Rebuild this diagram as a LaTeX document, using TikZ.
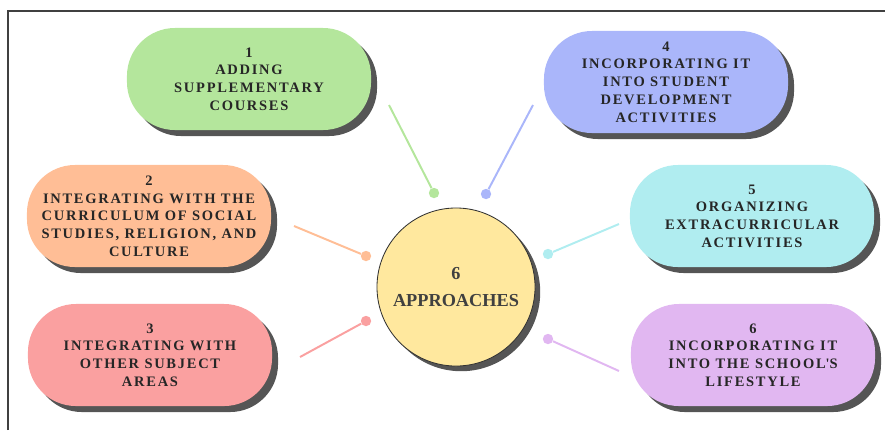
\documentclass[tikz,border=0pt]{standalone}
\usepackage{fontspec}
\setmainfont{Liberation Serif}
\usepackage{xcolor}
\usepackage{tikz}
\usetikzlibrary{shadows}

\definecolor{addgreen}{RGB}{180,230,156}
\definecolor{devblue}{RGB}{170,182,250}
\definecolor{socorange}{RGB}{255,190,150}
\definecolor{extracyan}{RGB}{176,237,240}
\definecolor{subjred}{RGB}{250,160,160}
\definecolor{lifepurple}{RGB}{225,183,241}
\definecolor{hubyellow}{RGB}{255,232,158}
\definecolor{shadowgray}{RGB}{85,85,85}

\begin{document}
\begin{tikzpicture}[
    x=0.025cm, y=-0.025cm,
    pill/.style={rectangle, rounded corners=1.2cm, minimum width=6.1cm, minimum height=2.55cm,
        inner sep=0pt, align=center, text=black!85,
        font=\fontsize{10.3}{12.6}\selectfont\bfseries\addfontfeature{LetterSpace=12},
        drop shadow={shadow xshift=0.15cm, shadow yshift=-0.15cm, fill=shadowgray, opacity=1}},
    hub/.style={circle, draw=black!80, line width=0.6pt, minimum size=3.95cm, inner sep=0pt,
        align=center, fill=hubyellow, text=black!75,
        font=\fontsize{13}{19.5}\selectfont\bfseries,
        drop shadow={shadow xshift=0.13cm, shadow yshift=-0.13cm, fill=shadowgray, opacity=1}},
    link/.style={line width=1.4pt},
    dot/.style={circle, inner sep=0pt, minimum size=0.26cm}
]

\useasboundingbox (0,0) rectangle (885,430);

% Frame
\coordinate (frameTL) at (8,11);
\coordinate (frameBL) at (8,430);
\coordinate (frameTR) at (885,11);
\draw[line width=1.3pt, black!75] (frameBL) -- (frameTL) -- (frameTR);

%==============================================================================
% Centre
%==============================================================================
\node[hub] (hub) at (456,287) {6\\APPROACHES};

%==============================================================================
% Approaches, left column
%==============================================================================
\node[pill, fill=addgreen] (a1) at (249,79) {1\\ADDING\\SUPPLEMENTARY\\COURSES};
\node[pill, fill=socorange] (a2) at (149,216) {2\\INTEGRATING WITH THE\\CURRICULUM OF SOCIAL\\STUDIES, RELIGION, AND\\CULTURE};
\node[pill, fill=subjred] (a3) at (150,355) {3\\INTEGRATING WITH\\OTHER SUBJECT\\AREAS};

%==============================================================================
% Approaches, right column
%==============================================================================
\node[pill, fill=devblue] (a4) at (666,82) {4\\INCORPORATING IT\\INTO STUDENT\\DEVELOPMENT\\ACTIVITIES};
\node[pill, fill=extracyan] (a5) at (752,216) {5\\ORGANIZING\\EXTRACURRICULAR\\ACTIVITIES};
\node[pill, fill=lifepurple] (a6) at (753,355) {6\\INCORPORATING IT\\INTO THE SCHOOL\textquotesingle S\\LIFESTYLE};

%==============================================================================
% Connectors
%==============================================================================
\coordinate (s1) at (389,105);
\coordinate (s2) at (294,226);
\coordinate (s3) at (300,357);
\coordinate (s4) at (533,105);
\coordinate (s5) at (619,224);
\coordinate (s6) at (619,371);

\node[dot, fill=addgreen] (d1) at (434,193) {};
\node[dot, fill=socorange] (d2) at (366,256) {};
\node[dot, fill=subjred] (d3) at (366,321) {};
\node[dot, fill=devblue] (d4) at (486,194) {};
\node[dot, fill=extracyan] (d5) at (548,254) {};
\node[dot, fill=lifepurple] (d6) at (548,339) {};

\draw[link, addgreen] (s1) -- (d1);
\draw[link, socorange] (s2) -- (d2);
\draw[link, subjred] (s3) -- (d3);
\draw[link, devblue] (s4) -- (d4);
\draw[link, extracyan] (s5) -- (d5);
\draw[link, lifepurple] (s6) -- (d6);

\end{tikzpicture}
\end{document}
